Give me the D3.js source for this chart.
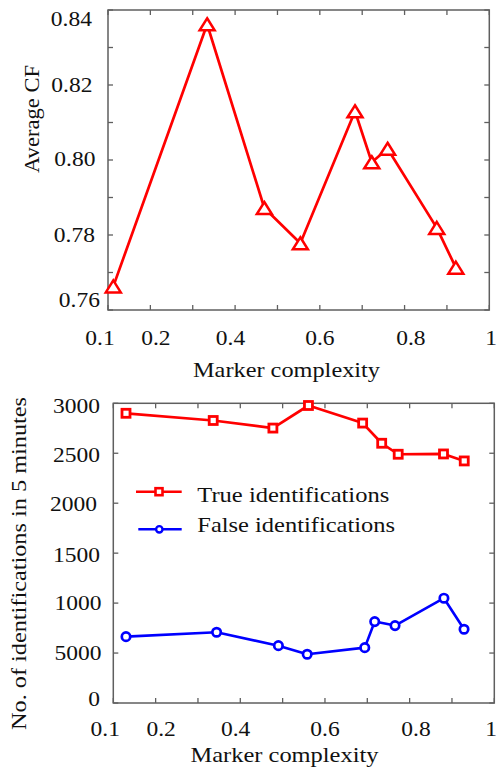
<!DOCTYPE html>
<html>
<head>
<meta charset="utf-8">
<script src="https://cdn.jsdelivr.net/npm/d3@7"></script>
<style>
  html, body { margin: 0; padding: 0; background: #ffffff; }
  svg { display: block; }
  svg text { font-family: "Liberation Serif", "Times New Roman", Times, serif; }
</style>
</head>
<body>
<div id="chart"></div>
<script>
// ---------------- data ----------------
const xTickLabels = ["0.1", "0.2", "0.4", "0.6", "0.8", "1"];
const xTickLabelAt = [0.081, 0.213, 0.389, 0.600, 0.815, 1.005];

const cfX = [0.1125, 0.334, 0.469, 0.554, 0.683, 0.7226, 0.760, 0.876, 0.921];
const cfY = [0.7663, 0.8362, 0.7872, 0.7778, 0.8130, 0.7994, 0.8030, 0.7819, 0.7713];
const cfTickLabels = ["0.84", "0.82", "0.80", "0.78", "0.76"];
const cfTickLabelAt = [0.84, 0.82, 0.80, 0.78, 0.76];

const trueX = [0.130, 0.336, 0.477, 0.561, 0.689, 0.734, 0.773, 0.880, 0.929];
const trueY = [2900, 2828, 2752, 2978, 2802, 2600, 2490, 2493, 2423];
const falseX = [0.130, 0.344, 0.490, 0.558, 0.694, 0.7175, 0.7655, 0.881, 0.9285];
const falseY = [664, 708, 574, 488, 554, 815, 775, 1049, 738];
const countTickLabels = ["3000", "2500", "2000", "1500", "1000", "5000", "0"];
const countTickLabelAt = [3000, 2500, 2000, 1500, 1000, 500, 0];

const seriesNames = ["True identifications", "False identifications"];
const xTitle = "Marker complexity";
const cfTitle = "Average CF";
const countTitle = "No. of identifications in 5 minutes";

// ---------------- layout / style ----------------
const W = 497, H = 770;
const AXIS_COLOR = "#5f5f5f";
const TEXT_COLOR = "#111";
const RED = "#ff0000", BLUE = "#0000ff";
const TICK_FS = 21, TICK_SX = 1.12;

const svg = d3.select("#chart").append("svg")
  .attr("width", W).attr("height", H);

function stretchedText(g, x, y, str, anchor, fs, sx) {
  return g.append("text")
    .attr("transform", `translate(${x},${y}) scale(${sx},1)`)
    .attr("text-anchor", anchor)
    .attr("font-size", fs)
    .attr("fill", TEXT_COLOR)
    .text(str);
}

function frame(g, x, y, xTicks, yTicks) {
  const [x0, x1] = x.range();
  const [y0, y1] = y.range(); // y0 bottom, y1 top
  const tl = 5;
  xTicks.forEach(t => {
    const px = x(t);
    g.append("line").attr("x1", px).attr("x2", px).attr("y1", y0).attr("y2", y0 - tl)
      .attr("stroke", AXIS_COLOR).attr("stroke-width", 1.3);
    g.append("line").attr("x1", px).attr("x2", px).attr("y1", y1).attr("y2", y1 + tl)
      .attr("stroke", AXIS_COLOR).attr("stroke-width", 1.3);
  });
  yTicks.forEach(t => {
    const py = y(t);
    g.append("line").attr("x1", x0).attr("x2", x0 + tl).attr("y1", py).attr("y2", py)
      .attr("stroke", AXIS_COLOR).attr("stroke-width", 1.3);
    g.append("line").attr("x1", x1).attr("x2", x1 - tl).attr("y1", py).attr("y2", py)
      .attr("stroke", AXIS_COLOR).attr("stroke-width", 1.3);
  });
  g.append("rect").attr("x", x0).attr("y", y1).attr("width", x1 - x0).attr("height", y0 - y1)
    .attr("fill", "none").attr("stroke", AXIS_COLOR).attr("stroke-width", 1.5);
}

const xTickValues = d3.range(1, 11).map(d => d / 10);

// ---------------- top chart ----------------
const gTop = svg.append("g");
const xTop = d3.scaleLinear().domain([0.1, 1.0]).range([108, 489.3]);
const yTop = d3.scaleLinear().domain([0.76, 0.84]).range([310, 10]);
frame(gTop, xTop, yTop, xTickValues, d3.range(76, 85).map(d => d / 100));

xTickLabels.forEach((lab, i) => {
  stretchedText(gTop, Math.min(xTop(xTickLabelAt[i]), W - 6), 345, lab, "middle", TICK_FS, TICK_SX);
});
const cfLabelDy = [16, 7.4, 5.5, 7.4, -3.3];
const cfLabelRight = [92, 92.5, 95.5, 95, 100];
cfTickLabels.forEach((lab, i) => {
  stretchedText(gTop, cfLabelRight[i], yTop(cfTickLabelAt[i]) + cfLabelDy[i], lab, "end", TICK_FS, TICK_SX);
});

gTop.append("text")
  .attr("x", 286.5).attr("y", 376.5)
  .attr("text-anchor", "middle")
  .attr("font-size", 22).attr("fill", TEXT_COLOR)
  .attr("textLength", 187).attr("lengthAdjust", "spacingAndGlyphs")
  .text(xTitle);
gTop.append("text")
  .attr("transform", "translate(38.5,119) rotate(-90)")
  .attr("text-anchor", "middle")
  .attr("font-size", 22).attr("fill", TEXT_COLOR)
  .attr("textLength", 108).attr("lengthAdjust", "spacingAndGlyphs")
  .text(cfTitle);

const cfData = cfX.map((d, i) => [d, cfY[i]]);
const lineTop = d3.line().x(d => xTop(d[0])).y(d => yTop(d[1]));
gTop.append("path").attr("d", lineTop(cfData))
  .attr("fill", "none").attr("stroke", RED).attr("stroke-width", 2.7)
  .attr("stroke-linejoin", "round");
const tri = "M0,-6 L7.5,6 L-7.5,6 Z";
gTop.selectAll("path.tri").data(cfData).join("path")
  .attr("class", "tri")
  .attr("d", tri)
  .attr("transform", d => `translate(${xTop(d[0])},${yTop(d[1])})`)
  .attr("fill", "#fff").attr("stroke", RED).attr("stroke-width", 2.5);

// ---------------- bottom chart ----------------
const gBot = svg.append("g");
const xBot = d3.scaleLinear().domain([0.1, 1.0]).range([113.3, 494.3]);
const yBot = d3.scaleLinear().domain([0, 3000]).range([703, 403.3]);
frame(gBot, xBot, yBot, xTickValues, d3.range(0, 3001, 500));

xTickLabels.forEach((lab, i) => {
  stretchedText(gBot, Math.min(xBot(xTickLabelAt[i]), W - 6), 735.5, lab, "middle", TICK_FS, TICK_SX);
});
const countLabelDy = [10, 9, 7.5, 9, 6.5, 6.7, 3];
const countLabelRight = [100, 100, 97, 100, 101.5, 101.5, 100];
countTickLabels.forEach((lab, i) => {
  stretchedText(gBot, countLabelRight[i], yBot(countTickLabelAt[i]) + countLabelDy[i], lab, "end", TICK_FS, TICK_SX);
});

gBot.append("text")
  .attr("x", 284.5).attr("y", 761.5)
  .attr("text-anchor", "middle")
  .attr("font-size", 22).attr("fill", TEXT_COLOR)
  .attr("textLength", 188).attr("lengthAdjust", "spacingAndGlyphs")
  .text(xTitle);
gBot.append("text")
  .attr("transform", "translate(26,563.5) rotate(-90)")
  .attr("text-anchor", "middle")
  .attr("font-size", 22).attr("fill", TEXT_COLOR)
  .attr("textLength", 333).attr("lengthAdjust", "spacingAndGlyphs")
  .text(countTitle);

const trueData = trueX.map((d, i) => [d, trueY[i]]);
const falseData = falseX.map((d, i) => [d, falseY[i]]);
const lineBot = d3.line().x(d => xBot(d[0])).y(d => yBot(d[1]));

gBot.append("path").attr("d", lineBot(trueData))
  .attr("fill", "none").attr("stroke", RED).attr("stroke-width", 2.7)
  .attr("stroke-linejoin", "round");
gBot.selectAll("rect.sq").data(trueData).join("rect")
  .attr("class", "sq")
  .attr("x", d => xBot(d[0]) - 4).attr("y", d => yBot(d[1]) - 4)
  .attr("width", 8).attr("height", 8)
  .attr("fill", "#fff").attr("stroke", RED).attr("stroke-width", 2.8);

gBot.append("path").attr("d", lineBot(falseData))
  .attr("fill", "none").attr("stroke", BLUE).attr("stroke-width", 2.6)
  .attr("stroke-linejoin", "round");
gBot.selectAll("circle.ci").data(falseData).join("circle")
  .attr("class", "ci")
  .attr("cx", d => xBot(d[0])).attr("cy", d => yBot(d[1]))
  .attr("r", 4.2)
  .attr("fill", "#fff").attr("stroke", BLUE).attr("stroke-width", 2.7);

// legend
const leg = gBot.append("g");
const legY = [491.7, 529.3];
const legLineX = [[136, 181.7], [138.3, 181.7]];
const legColors = [RED, BLUE];
seriesNames.forEach((name, i) => {
  leg.append("line")
    .attr("x1", legLineX[i][0]).attr("x2", legLineX[i][1])
    .attr("y1", legY[i]).attr("y2", legY[i])
    .attr("stroke", legColors[i]).attr("stroke-width", 2.6);
  if (i === 0) {
    leg.append("rect").attr("x", 159 - 3.5).attr("y", legY[i] - 3.5)
      .attr("width", 7).attr("height", 7)
      .attr("fill", "#fff").attr("stroke", RED).attr("stroke-width", 2.6);
  } else {
    leg.append("circle").attr("cx", 159.3).attr("cy", legY[i]).attr("r", 3.2)
      .attr("fill", "#fff").attr("stroke", BLUE).attr("stroke-width", 2.4);
  }
});
leg.append("text").attr("x", 197.3).attr("y", 502.3)
  .attr("font-size", 22).attr("fill", TEXT_COLOR)
  .attr("textLength", 192).attr("lengthAdjust", "spacingAndGlyphs")
  .text(seriesNames[0]);
leg.append("text").attr("x", 197.3).attr("y", 531.7)
  .attr("font-size", 22).attr("fill", TEXT_COLOR)
  .attr("textLength", 197.7).attr("lengthAdjust", "spacingAndGlyphs")
  .text(seriesNames[1]);
</script>
</body>
</html>
